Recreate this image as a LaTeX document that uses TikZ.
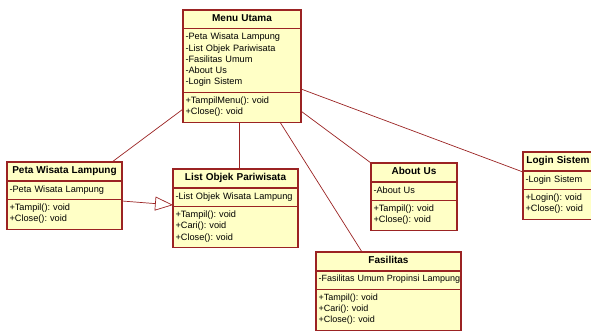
\documentclass[tikz,border=0pt]{standalone}
\usepackage{fontspec}
\setmainfont{Liberation Sans}
\usetikzlibrary{arrows.meta,shapes.multipart,calc}
\definecolor{umlred}{RGB}{155,35,35}
\definecolor{umlfill}{RGB}{255,255,198}
\newcommand\ustrut{\rule[-3pt]{0pt}{8.3pt}}
\newcommand\ttl[1]{\centering\fontsize{10}{11.3}\selectfont\bfseries\ustrut#1\ustrut\par}
\frenchspacing

\begin{document}
\begin{tikzpicture}[x=1pt, y=-1pt,
  cls/.style={rectangle split, rectangle split parts=3, draw=umlred, line width=1.1pt,
    fill=umlfill, anchor=north west, inner xsep=2.5pt, inner ysep=3.85pt, outer sep=0pt,
    font=\fontsize{9.2}{11.3}\selectfont},
  assoc/.style={draw=umlred, line width=0.7pt}]
\useasboundingbox (0,0) rectangle (591,331);
\fill[white] (0,0) rectangle (591,331);
\clip (0,0) rectangle (591,331);
\node[cls, text width=113pt] (menu) at (183,10) {\ttl{Menu Utama}
  \nodepart{two}\ustrut-Peta Wisata Lampung\\-List Objek Pariwisata\\-Fasilitas Umum\\-About Us\\-Login Sistem\ustrut
  \nodepart{three}\ustrut+TampilMenu(): void\\+Close(): void\ustrut};
\node[cls, text width=110pt] (peta) at (7,162) {\ttl{Peta Wisata Lampung}
  \nodepart{two}\ustrut-Peta Wisata Lampung\ustrut
  \nodepart{three}\ustrut+Tampil(): void\\+Close(): void\ustrut};
\node[cls, text width=120pt] (list) at (173,169) {\ttl{List Objek Pariwisata}
  \nodepart{two}\ustrut-List Objek Wisata Lampung\ustrut
  \nodepart{three}\ustrut+Tampil(): void\\+Cari(): void\\+Close(): void\ustrut};
\node[cls, text width=81pt] (about) at (371,163) {\ttl{About Us}
  \nodepart{two}\ustrut-About Us\ustrut
  \nodepart{three}\ustrut+Tampil(): void\\+Close(): void\ustrut};
\node[cls, text width=65pt] (login) at (523,152) {\ttl{Login Sistem}
  \nodepart{two}\ustrut-Login Sistem\ustrut
  \nodepart{three}\ustrut+Login(): void\\+Close(): void\ustrut};
\node[cls, text width=140pt, font=\fontsize{9}{11.3}\selectfont] (fas) at (316,252) {\ttl{Fasilitas}
  \nodepart{two}\ustrut\mbox{-Fasilitas Umum Propinsi Lampung}\ustrut
  \nodepart{three}\ustrut+Tampil(): void\\+Cari(): void\\+Close(): void\ustrut};
\draw[assoc] ($(menu.south west)+(0,-13)$) -- ($(peta.north east)+(-10,0)$);
\draw[assoc] ($(menu.south west)+(56,0)$) -- ($(list.north west)+(66,0)$);
\draw[assoc] ($(menu.south west)+(97,0)$) -- ($(fas.north west)+(46,0)$);
\draw[assoc] ($(menu.south east)+(0,-11)$) -- (about.north west);
\draw[assoc] ($(menu.north east)+(0,79)$) -- ($(login.north west)+(0,20)$);
\draw[assoc, -{Triangle[open, length=18pt, width=14pt]}] ($(peta.north east)+(0,39)$) -- ($(list.north west)+(0,36)$);
\end{tikzpicture}
\end{document}
